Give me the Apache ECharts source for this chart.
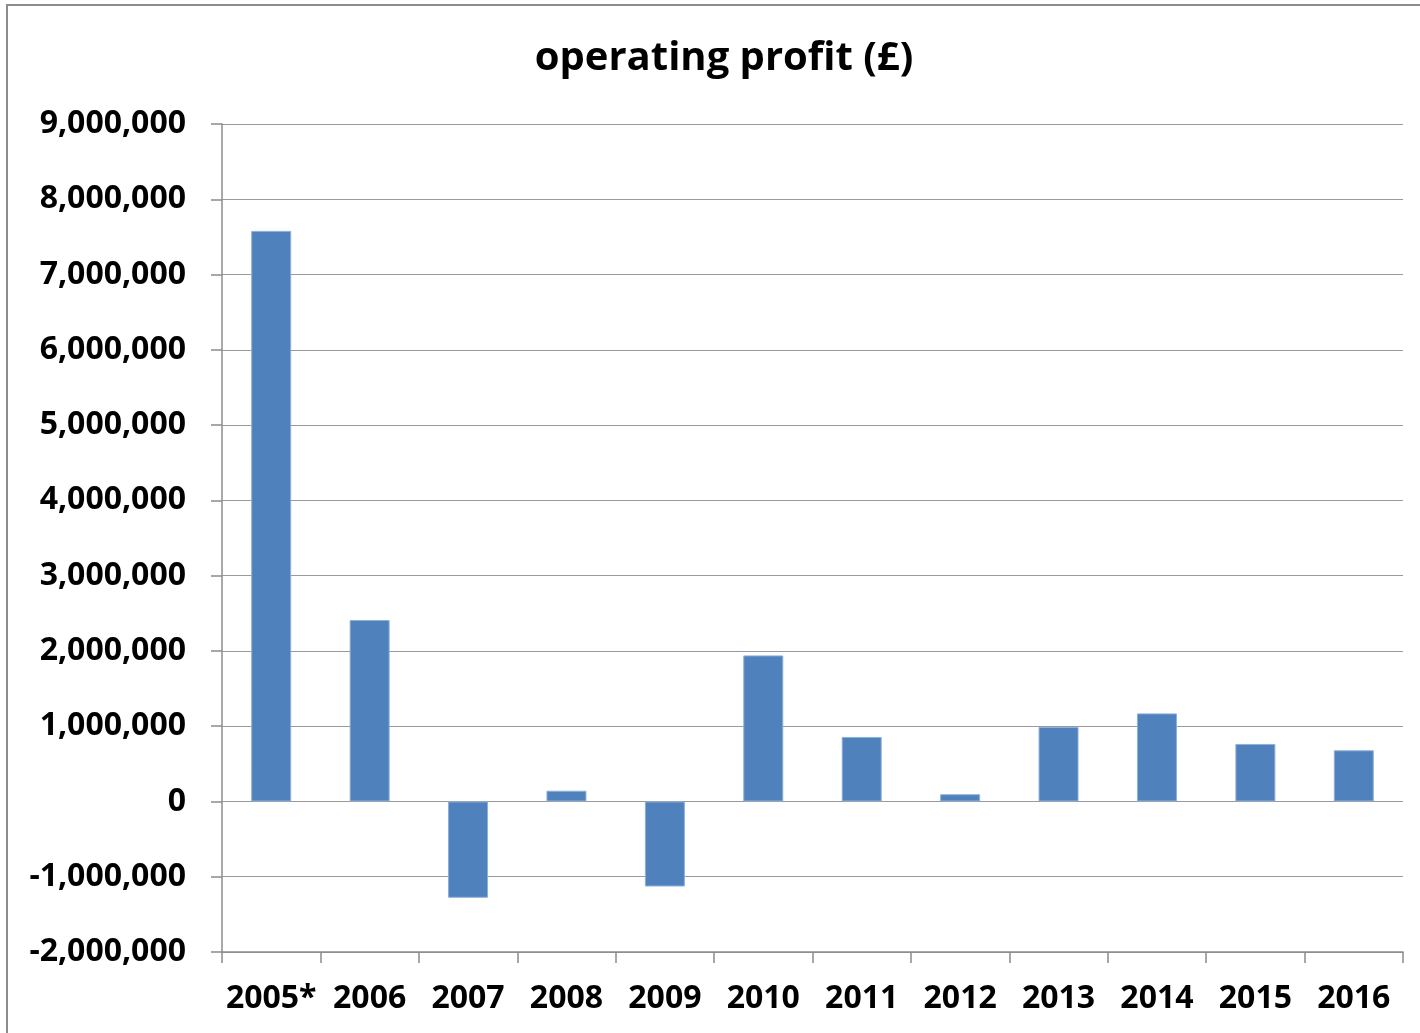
<!DOCTYPE html>
<html>
<head>
<meta charset="utf-8">
<script src="https://cdn.jsdelivr.net/npm/echarts@6/dist/echarts.min.js"></script>
<style>
html,body{margin:0;padding:0;background:#fff;}
#frame{position:absolute;left:6px;top:4px;width:1430px;height:1050px;border:2px solid #8c8c8c;box-sizing:border-box;}
#chart{position:absolute;left:0;top:0;width:1420px;height:1033px;}
</style>
</head>
<body>
<div id="frame"></div>
<div id="chart"></div>
<script>
const categories = ['2005*','2006','2007','2008','2009','2010','2011','2012','2013','2014','2015','2016'];
const profit = [7580000, 2410000, -1280000, 143000, -1130000, 1940000, 857000, 96000, 990000, 1170000, 764000, 680000];
const yMin = -2000000, yMax = 9000000, yStep = 1000000;

const chart = echarts.init(document.getElementById('chart'), null, {renderer:'canvas'});
const font = '"Open Sans", "Liberation Sans", sans-serif';
chart.setOption({
  backgroundColor: 'transparent',
  animation: false,
  title: {
    text: 'operating profit (£)',
    left: 719,
    textAlign: 'center',
    top: 34,
    textStyle: {fontFamily: font, fontWeight: 'bold', fontSize: 40, color: '#000'}
  },
  grid: {left: 222, right: 17, top: 124, bottom: 81, containLabel: false},
  xAxis: {
    type: 'category',
    data: categories,
    axisLine: {onZero: false, lineStyle: {color: '#8c8c8c', width: 1.5}},
    axisTick: {show: true, length: 11, alignWithLabel: false, lineStyle: {color: '#8c8c8c', width: 1.5}},
    axisLabel: {fontFamily: font, fontWeight: 'bold', fontSize: 32, color: '#000', margin: 31, interval: 0}
  },
  yAxis: {
    type: 'value',
    min: yMin, max: yMax, interval: yStep,
    axisLine: {show: true, lineStyle: {color: '#8c8c8c', width: 1.5}},
    axisTick: {show: true, length: 11, lineStyle: {color: '#8c8c8c', width: 1.5}},
    splitLine: {lineStyle: {color: '#9a9a9a', width: 1.2}},
    axisLabel: {
      fontFamily: font, fontWeight: 'bold', fontSize: 32, color: '#000', margin: 36,
      formatter: v => v.toLocaleString('en-US')
    }
  },
  series: [{
    type: 'bar',
    data: profit,
    barWidth: 40,
    itemStyle: {color: '#4F81BD', borderColor: '#8FB0D8', borderWidth: 1}
  }]
});
</script>
</body>
</html>
